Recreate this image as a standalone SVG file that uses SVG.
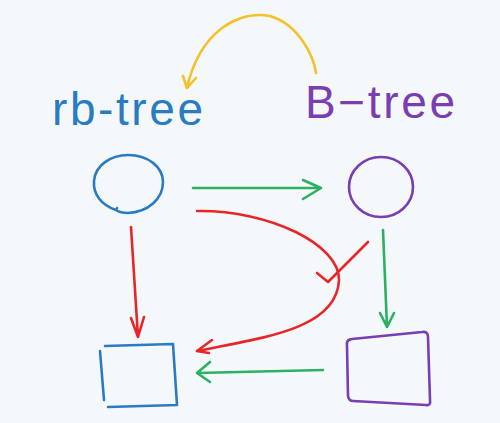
<svg xmlns="http://www.w3.org/2000/svg" width="500" height="423" viewBox="0 0 500 423">
<style>
.s{fill:none;stroke-width:2.6;stroke-linecap:round;stroke-linejoin:round}
.blue{stroke:#2a7cc2}
.purple{stroke:#7a3db2}
.green{stroke:#2bb160}
.red{stroke:#e8262a}
.yellow{stroke:#f4c12a}
.lbl{font-family:"Liberation Sans","DejaVu Sans",sans-serif;font-size:46px}
</style>
<rect width="500" height="423" fill="#f4f8fb"/>
<g id="rb-tree-label">
<text class="lbl" x="52" y="125" fill="#2a7cc2" textLength="151" lengthAdjust="spacing">rb-tree</text>
</g>
<g id="b-tree-label">
<text class="lbl" x="305" y="118" fill="#7a3db2" textLength="150" lengthAdjust="spacing">B−tree</text>
</g>
<g id="rb-circle">
<path class="s blue" d="M116,210 C101,205 93,194 94,181 C95,166 110,155 128,155 C148,155 163,167 163,182 C163,199 148,212 128,213 C123,213 119,212 116,210 L117,208"/>
</g>
<g id="b-circle">
<ellipse class="s purple" cx="381" cy="187" rx="32" ry="30"/>
</g>
<g id="rb-square">
<path class="s blue" d="M105,346 L173,344 L177,405 L108,407 M100,351 L104,400"/>
</g>
<g id="b-square">
<path class="s purple" d="M350,340 Q346,340 347,346 L348,396 Q349,401 353,401 L426,405 Q431,406 430,400 L428,337 Q428,331 422,332 L352,339 Q347,339 347,344"/>
</g>
<g id="connectors">
<path class="s yellow" d="M316,73 C314,58 300,25 270,16 C240,10 200,30 187,88"/>
<path class="s yellow" d="M183,76 L187,88 L196,78"/>
<path class="s green" d="M193,188 L321,188 M303,180 L321,188 L303,199"/>
<path class="s red" d="M197,211 C270,210 340,245 339,280 C337,330 260,338 197,351"/>
<path class="s red" d="M212,340 L197,351 L209,353"/>
<path class="s red" d="M317,273 L328,282 L368,242"/>
<path class="s red" d="M131,227 L138,337 M131,318 L138,337 L144,317"/>
<path class="s green" d="M383,230 L387,327 M380,313 L387,327 L394,313"/>
<path class="s green" d="M323,370 L197,373 M210,362 L197,373 L210,382"/>
</g>
</svg>
